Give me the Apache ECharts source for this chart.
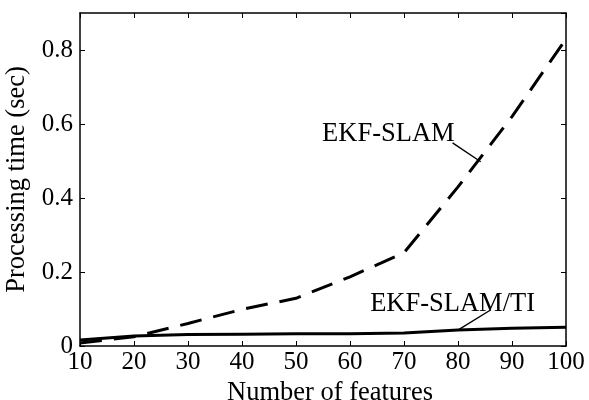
<!DOCTYPE html>
<html><head><meta charset="utf-8">
<script src="https://cdn.jsdelivr.net/npm/echarts@6/dist/echarts.min.js"></script>
<style>html,body{margin:0;padding:0;background:#fff}#c{width:589px;height:400px}</style>
</head><body><div id="c"></div>
<script>
const features = [10, 20, 30, 40, 50, 60, 70, 80, 90, 100];
const ekfSlam = [0.008, 0.025, 0.061, 0.099, 0.129, 0.187, 0.252, 0.43, 0.62, 0.83];
const ekfSlamTI = [0.016, 0.027, 0.031, 0.032, 0.033, 0.033, 0.035, 0.043, 0.048, 0.051];
const xTicks = [10, 20, 30, 40, 50, 60, 70, 80, 90, 100];
const yTicks = [0, 0.2, 0.4, 0.6, 0.8];
const labelEKF = {text: 'EKF-SLAM', at: [67.1, 0.572], leader: [[79.0, 0.549], [84.2, 0.498]]};
const labelTI = {text: 'EKF-SLAM/TI', at: [79.0, 0.114], leader: [[86.1, 0.098], [80.2, 0.045]]};

const FONT = '"Liberation Serif", "Times New Roman", serif';
const chart = echarts.init(document.getElementById('c'), null, {renderer: 'canvas'});
const axisCommon = {
  axisLine: {show: true, onZero: false, lineStyle: {color: '#000', width: 1.5}},
  axisTick: {show: true, inside: true, length: 5, lineStyle: {color: '#000', width: 1}},
  splitLine: {show: false}
};
function pairs(ys) { return features.map((f, i) => [f, ys[i]]); }
chart.setOption({
  animation: false,
  backgroundColor: '#fff',
  grid: {left: 80, right: 23, top: 13, bottom: 54, containLabel: false, outerBoundsMode: 'none'},
  xAxis: [
    Object.assign({type: 'value', min: xTicks[0], max: xTicks[xTicks.length - 1], interval: 10, position: 'bottom',
      name: 'Number of features', nameLocation: 'middle', nameGap: 28,
      nameTextStyle: {fontFamily: FONT, fontSize: 26.5, color: '#000', padding: [0, 0, 0, 14]},
      axisLabel: {fontFamily: FONT, fontSize: 25, color: '#000', margin: 4}}, axisCommon),
    Object.assign({type: 'value', min: xTicks[0], max: xTicks[xTicks.length - 1], interval: 10, position: 'top',
      axisLabel: {show: false}}, axisCommon)
  ],
  yAxis: [
    Object.assign({type: 'value', min: 0, max: 0.9, interval: 0.2, position: 'left',
      name: 'Processing time (sec)', nameLocation: 'middle', nameGap: 46,
      nameTextStyle: {fontFamily: FONT, fontSize: 26.5, color: '#000'},
      axisLabel: {fontFamily: FONT, fontSize: 25, color: '#000', margin: 7, showMaxLabel: false,
        formatter: v => yTicks.includes(Math.round(v * 10) / 10) ? String(Math.round(v * 10) / 10) : ''}}, axisCommon),
    Object.assign({type: 'value', min: 0, max: 0.9, interval: 0.2, position: 'right',
      axisLabel: {show: false}}, axisCommon)
  ],
  series: [
    {name: 'EKF-SLAM', type: 'line', data: pairs(ekfSlam), showSymbol: false, symbol: 'none',
      lineStyle: {color: '#000', width: 3, type: [22, 12]}, z: 3,
      markLine: {silent: true, symbol: ['none', 'none'], label: {show: false},
        lineStyle: {color: '#000', width: 1.4, type: 'solid'},
        data: [[{coord: labelEKF.leader[0]}, {coord: labelEKF.leader[1]}]]}},
    {name: 'EKF-SLAM/TI', type: 'line', data: pairs(ekfSlamTI), showSymbol: false, symbol: 'none',
      lineStyle: {color: '#000', width: 3, type: 'solid'}, z: 4,
      markLine: {silent: true, symbol: ['none', 'none'], label: {show: false},
        lineStyle: {color: '#000', width: 1.4, type: 'solid'},
        data: [[{coord: labelTI.leader[0]}, {coord: labelTI.leader[1]}]]}}
  ]
});
function textEl(l) {
  const p = chart.convertToPixel({xAxisIndex: 0, yAxisIndex: 0}, l.at);
  return {type: 'text', x: p[0], y: p[1], style: {text: l.text, fontFamily: FONT, fontSize: 26.5, fill: '#000', align: 'center', verticalAlign: 'middle'}};
}
chart.setOption({graphic: [textEl(labelEKF), textEl(labelTI)]});
</script></body></html>
